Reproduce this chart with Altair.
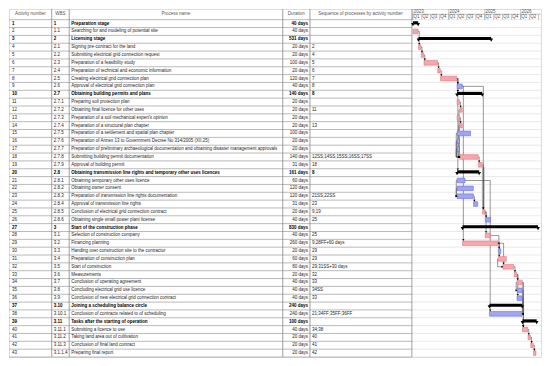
import re
import altair as alt
import pandas as pd

# ---------------- data ----------------
activity = list(range(1, 44))
wbs = ["1", "1.1", "2", "2.1", "2.2", "2.3", "2.4", "2.5", "2.6", "2.7", "2.7.1", "2.7.2",
       "2.7.3", "2.7.4", "2.7.5", "2.7.6", "2.7.7", "2.7.8", "2.7.9", "2.8", "2.8.1", "2.8.2",
       "2.8.3", "2.8.4", "2.8.5", "2.8.6", "3", "3.1", "3.2", "3.3", "3.4", "3.5", "3.6", "3.7",
       "3.8", "3.9", "3.10", "3.10.1", "3.11", "3.11.1", "3.11.2", "3.11.3", "3.1.1.4"]
names = [
    "Preparation stage",
    "Searching for and modeling of potential site",
    "Licensing stage",
    "Signing pre-contract for the land",
    "Submitting electrical grid connection request",
    "Preparation of a feasibility study",
    "Preparation of technical and economic information",
    "Creating electrical grid connection plan",
    "Approval of electrical grid connection plan",
    "Obtaining building permits and plans",
    "Preparing soil protection plan",
    "Obtaining final licence for other uses",
    "Preparation of a soil mechanical expert's opinion",
    "Preparation of a structural plan chapter",
    "Preparation of a settlement and spatial plan chapter",
    "Preparation of Annex 13 to Government Decree No 314/2005 (XII.25)",
    "Preparation of preliminary archaeological documentation and obtaining disaster management approvals",
    "Submitting building permit documentation",
    "Approval of building permit",
    "Obtaining transmission line rights and temporary other uses licences",
    "Obtaining temporary other uses licence",
    "Obtaining owner consent",
    "Preparation of transmission line rights documentation",
    "Approval of transmission line rights",
    "Conclusion of electrical grid connection contract",
    "Obtaining single small power plant license",
    "Start of the construction phase",
    "Selection of construction company",
    "Financing planning",
    "Handing over construction site to the contractor",
    "Preparation of construction plan",
    "Start of construction",
    "Measurements",
    "Conclusion of operating agreement",
    "Concluding electrical grid use licence",
    "Conclusion of new electrical grid connection contract",
    "Joining a scheduling balance circle",
    "Conclusion of contracts related to of scheduling",
    "Tasks after the starting of operation",
    "Submitting a licence to use",
    "Taking land area out of cultivation",
    "Conclusion of final land contract",
    "Preparing final report",
]
durations = [40, 40, 531, 20, 20, 100, 20, 120, 40, 140, 20, 20, 20, 20, 100, 20, 20, 140, 31,
             161, 60, 120, 120, 31, 20, 40, 830, 40, 260, 20, 60, 80, 20, 40, 40, 40, 240, 240,
             100, 40, 20, 20, 20]
sequence = ["", "", "", "2", "4", "5", "6", "7", "8", "8", "", "11", "", "13", "", "", "",
            "12SS;14SS;15SS;16SS;17SS", "18", "8", "", "", "21SS;22SS", "23", "9;19", "25", "",
            "25", "9;28FF+60 days", "29", "29", "29;31SS+30 days", "32", "33", "34SS", "33", "",
            "21;34FF;35FF;36FF", "", "34;38", "40", "41", "42"]
summary_rows = [1, 3, 10, 20, 27, 37, 39]
critical_rows = [2, 4, 5, 6, 7, 8, 11, 12, 13, 14, 18, 19, 25, 28, 29, 31, 32, 33, 34,
                 40, 41, 42, 43]
starts = ["2023-01-02", "2023-01-02", "2023-02-27", "2023-02-27", "2023-03-27", "2023-04-24",
          "2023-09-11", "2023-10-09", "2024-03-25", "2024-03-25", "2024-03-25", "2024-04-22",
          "2024-03-25", "2024-04-22", "2024-03-25", "2024-03-25", "2024-03-25", "2024-04-22",
          "2024-10-28", "2024-03-25", "2024-03-25", "2024-03-25", "2024-03-25", "2024-09-09",
          "2024-12-09", "2025-01-06", "2024-05-20", "2025-01-06", "2024-05-20", "2025-05-19",
          "2025-05-19", "2025-07-03", "2025-10-27", "2025-11-24", "2025-11-24", "2025-11-24",
          "2025-02-17", "2025-02-17", "2026-01-19", "2026-01-19", "2026-03-16", "2026-04-13",
          "2026-05-11"]
ends = ["2023-02-24", "2023-02-24", "2025-03-07", "2023-03-24", "2023-04-21", "2023-09-08",
        "2023-10-06", "2024-03-22", "2024-05-17", "2024-12-06", "2024-04-19", "2024-05-17",
        "2024-04-19", "2024-05-17", "2024-08-09", "2024-04-19", "2024-04-19", "2024-10-25",
        "2024-12-06", "2024-11-05", "2024-06-14", "2024-09-06", "2024-09-06", "2024-10-21",
        "2025-01-03", "2025-02-28", "2026-06-26", "2025-02-28", "2025-05-16", "2025-06-13",
        "2025-08-08", "2025-10-22", "2025-11-21", "2026-01-16", "2026-01-16", "2026-01-16",
        "2026-01-16", "2026-01-16", "2026-06-12", "2026-03-13", "2026-04-10", "2026-05-08",
        "2026-06-05"]
header_labels = ["Activity number", "WBS", "Process name", "Duration",
                 "Sequence of processes by activity number"]
years = [2023, 2024, 2025, 2026]
quarter_labels = ["Q1", "Q2", "Q3", "Q4"] * 3 + ["Q1", "Q2"]
quarter_starts = ["2023-01-01", "2023-04-01", "2023-07-01", "2023-10-01",
                  "2024-01-01", "2024-04-01", "2024-07-01", "2024-10-01",
                  "2025-01-01", "2025-04-01", "2025-07-01", "2025-10-01",
                  "2026-01-01", "2026-04-01"]
quarter_lines = quarter_starts + ["2026-07-01"]
highlight_links = [(19, 25)]

# ---------------- layout ----------------
W, H = 532, 348
SX, SY = W / 548.0, H / 358.0


def cx(x):
    return (x - 1) * SX


def cy(y):
    return (y - 3) * SY


col_edges = [45, 63, 283, 311, 416]
header_centers = [23, 54, 173, 297, 363]
FONT = "Liberation Sans"
FS = 4.5
TXT = "#262626"
HDR = "#555555"

yscale = alt.Scale(domain=[0.5, 43.5], range=[cy(14), cy(361)])
xg = alt.Scale(domain=[alt.DateTime(year=2023, month=1, date=1, utc=True),
                       alt.DateTime(year=2026, month=7, date=26, utc=True)],
               range=[cx(417), cx(549)])

tbl = pd.DataFrame({
    "row": activity,
    "num": [str(a) for a in activity],
    "wbs": wbs,
    "name": names,
    "dur": [f"{d} days" for d in durations],
    "seq": sequence,
    "summary": [a in summary_rows for a in activity],
    "crit": ["crit" if a in critical_rows else "non" for a in activity],
    "start": starts,
    "end": ends,
})
tbl["top"] = tbl["row"] - 0.3
tbl["bot"] = tbl["row"] + 0.3
tbl["stop"] = tbl["row"] - 0.3
tbl["sbot"] = tbl["row"] + 0.1
tbl["cap"] = tbl["row"] + 0.12

# ---------------- dependency links ----------------
info = {r: (pd.Timestamp(s), pd.Timestamp(e)) for r, s, e in zip(activity, starts, ends)}
G = pd.Timedelta(days=8)
A = pd.Timedelta(days=5)
segs, arrows, hl = [], [], []


def fmt(t):
    return t.strftime("%Y-%m-%d")


def seg(x1, y1, x2, y2):
    segs.append({"x1": fmt(x1), "x2": fmt(x2), "y1": y1, "y2": y2})


for r, sq in zip(activity, sequence):
    if not sq:
        continue
    for tok in sq.split(";"):
        m = re.match(r"\s*(\d+)(SS|FF|FS)?", tok)
        p = int(m.group(1))
        typ = m.group(2) or "FS"
        ps, pe = info[p]
        ss, se = info[r]
        if typ == "FS":
            if ss >= pe - G / 2:
                xv = max(ss, pe) + G
                seg(pe, p, xv, p)
                seg(xv, p, xv, r - 0.42)
                arrows.append({"x": fmt(xv), "y": r - 0.42, "shape": "down"})
                if (p, r) in highlight_links:
                    hl.append({"x1": fmt(xv), "y1": p + 0.3, "y2": r - 0.6})
            else:
                xr = pe + G
                xl = ss - G
                seg(pe, p, xr, p)
                seg(xr, p, xr, r - 0.5)
                seg(xr, r - 0.5, xl, r - 0.5)
                seg(xl, r - 0.5, xl, r)
                seg(xl, r, ss, r)
                arrows.append({"x": fmt(ss - A), "y": r, "shape": "right"})
        elif typ == "SS":
            xl = min(ps, ss) - G
            seg(ps, p, xl, p)
            seg(xl, p, xl, r)
            seg(xl, r, ss, r)
            arrows.append({"x": fmt(ss - A), "y": r, "shape": "right"})
        else:  # FF
            xr = max(pe, se) + G
            seg(pe, p, xr, p)
            seg(xr, p, xr, r)
            seg(xr, r, se, r)
            arrows.append({"x": fmt(se + A), "y": r, "shape": "left"})

segs_df = pd.DataFrame(segs)
arrows_df = pd.DataFrame(arrows)
hl_df = pd.DataFrame(hl)

# ---------------- layers ----------------
bounds = pd.DataFrame({"b": [i + 0.5 for i in range(0, 44)]})
row_lines_tbl = alt.Chart(bounds).mark_rule(color="#959595", strokeWidth=0.65).encode(
    y=alt.Y("b:Q", scale=yscale, axis=None), x=alt.value(0), x2=alt.value(cx(416)))
row_lines_g = alt.Chart(bounds).mark_rule(color="#dadada", strokeWidth=0.6).encode(
    y=alt.Y("b:Q", scale=yscale, axis=None), x=alt.value(cx(416)), x2=alt.value(W))

cols_df = pd.DataFrame({"px": [cx(e) for e in col_edges]})
col_lines = alt.Chart(cols_df).mark_rule(color="#808080", strokeWidth=0.75).encode(
    x=alt.X("px:Q", scale=None, axis=None), y=alt.value(0), y2=alt.value(H))

hdr_df = pd.DataFrame({"label": header_labels, "px": [cx(c) for c in header_centers]})
hdr_text = alt.Chart(hdr_df).mark_text(font=FONT, fontSize=FS, color=HDR, align="center",
                                       baseline="middle").encode(
    x=alt.X("px:Q", scale=None, axis=None), y=alt.value(cy(8.6)), text="label:N")

one = pd.DataFrame({"k": [0]})
g_div = alt.Chart(one).mark_rule(color="#9a9a9a", strokeWidth=0.6).encode(
    x=alt.value(cx(416)), x2=alt.value(W), y=alt.value(cy(8.4)))

year_df = pd.DataFrame({"d": [f"{y}-01-01" for y in years], "label": [str(y) for y in years]})
year_lines = alt.Chart(year_df).mark_rule(color="#9a9a9a", strokeWidth=0.6).encode(
    x=alt.X("d:T", scale=xg, axis=None), y=alt.value(0), y2=alt.value(cy(14)))
year_text = alt.Chart(year_df).mark_text(font=FONT, fontSize=FS, color=HDR, align="left",
                                         baseline="middle", dx=0.8).encode(
    x=alt.X("d:T", scale=xg, axis=None), y=alt.value(cy(5.8)), text="label:N")

ql_df = pd.DataFrame({"d": quarter_lines})
q_lines = alt.Chart(ql_df).mark_rule(color="#9a9a9a", strokeWidth=0.6).encode(
    x=alt.X("d:T", scale=xg, axis=None), y=alt.value(cy(8.4)), y2=alt.value(cy(14)))
q_df = pd.DataFrame({"d": quarter_starts, "label": quarter_labels})
q_text = alt.Chart(q_df).mark_text(font=FONT, fontSize=FS, color=HDR, align="left",
                                   baseline="middle", dx=0.6).encode(
    x=alt.X("d:T", scale=xg, axis=None), y=alt.value(cy(11.3)), text="label:N")


def col_text(field, px, align, bold, limit=0):
    kw = dict(font=FONT, fontSize=FS, color="#000000" if bold else TXT, align=align,
              baseline="middle", fontWeight="bold" if bold else "normal")
    if limit:
        kw["limit"] = limit
        kw["ellipsis"] = ""
    return alt.Chart(tbl).transform_filter(
        alt.datum.summary if bold else ~alt.datum.summary
    ).mark_text(**kw).encode(
        x=alt.value(px), y=alt.Y("row:Q", scale=yscale, axis=None), text=f"{field}:N")


text_layers = []
for bold in (False, True):
    text_layers += [
        col_text("num", cx(4), "left", bold),
        col_text("wbs", cx(47), "left", bold),
        col_text("name", cx(65), "left", bold, limit=cx(283) - cx(65) - 1.5),
        col_text("dur", cx(309), "right", bold),
        col_text("seq", cx(313), "left", bold),
    ]

highlight = alt.Chart(hl_df).mark_rule(color="#c8c8c8", strokeWidth=3).encode(
    x=alt.X("x1:T", scale=xg, axis=None), y=alt.Y("y1:Q", scale=yscale, axis=None), y2="y2:Q")

tasks = alt.Chart(tbl).transform_filter(~alt.datum.summary).mark_rect(strokeWidth=0.5).encode(
    x=alt.X("start:T", scale=xg, axis=None), x2="end:T",
    y=alt.Y("top:Q", scale=yscale, axis=None), y2="bot:Q",
    fill=alt.Fill("crit:N", scale=alt.Scale(domain=["crit", "non"], range=["#f6a6ac", "#a1a3f3"]),
                  legend=None),
    stroke=alt.Stroke("crit:N", scale=alt.Scale(domain=["crit", "non"], range=["#dc6b75", "#5f63d0"]),
                      legend=None),
)
summ = alt.Chart(tbl).transform_filter(alt.datum.summary).mark_rect(color="#000000").encode(
    x=alt.X("start:T", scale=xg, axis=None), x2="end:T",
    y=alt.Y("stop:Q", scale=yscale, axis=None), y2="sbot:Q")
caps_start = alt.Chart(tbl).transform_filter(alt.datum.summary).mark_point(
    shape="triangle-down", filled=True, color="#000000", size=14, opacity=1).encode(
    x=alt.X("start:T", scale=xg, axis=None), y=alt.Y("cap:Q", scale=yscale, axis=None))
caps_end = alt.Chart(tbl).transform_filter(alt.datum.summary).mark_point(
    shape="triangle-down", filled=True, color="#000000", size=14, opacity=1).encode(
    x=alt.X("end:T", scale=xg, axis=None), y=alt.Y("cap:Q", scale=yscale, axis=None))

links = alt.Chart(segs_df).mark_rule(color="#333333", strokeWidth=0.5).encode(
    x=alt.X("x1:T", scale=xg, axis=None), x2="x2:T",
    y=alt.Y("y1:Q", scale=yscale, axis=None), y2="y2:Q")
arrow_pts = alt.Chart(arrows_df).mark_point(filled=True, color="#000000", size=5, opacity=1).encode(
    x=alt.X("x:T", scale=xg, axis=None), y=alt.Y("y:Q", scale=yscale, axis=None),
    shape=alt.Shape("shape:N", scale=alt.Scale(domain=["down", "right", "left"],
                                               range=["triangle-down", "triangle-right", "triangle-left"]),
                    legend=None))

chart = alt.layer(
    row_lines_tbl, row_lines_g, col_lines, g_div, year_lines, q_lines,
    hdr_text, year_text, q_text, *text_layers,
    highlight, links, tasks, summ, caps_start, caps_end, arrow_pts,
).resolve_scale(x="independent").properties(
    width=W, height=H, padding={"left": 1, "top": 1, "right": 1, "bottom": 1},
    autosize=alt.AutoSizeParams(type="none"),
).configure_view(stroke="#808080", strokeWidth=0.8).configure(font=FONT)

chart.save("out.html", embed_options={"renderer": "svg", "actions": False})
